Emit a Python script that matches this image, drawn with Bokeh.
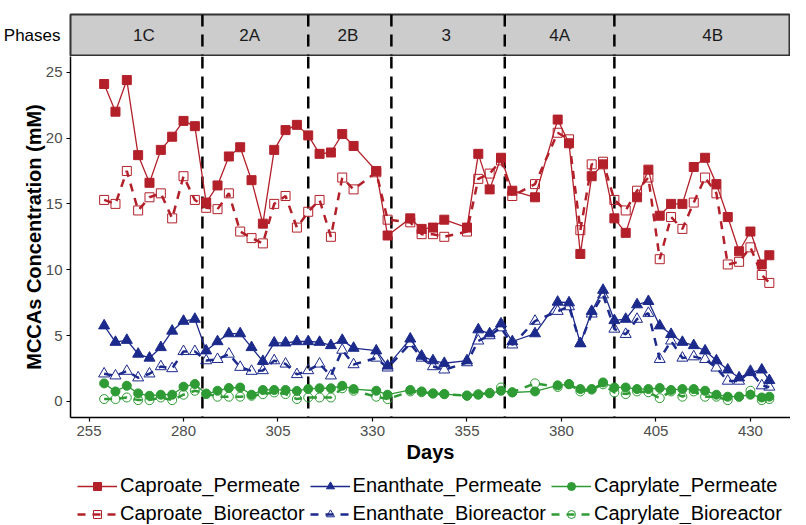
from bokeh.plotting import figure
from bokeh.models import Range1d, FixedTicker, Span, Legend, LegendItem, CustomJSTickFormatter
from bokeh.layouts import column
from bokeh.embed import file_html
from bokeh.resources import INLINE
from bokeh.core.properties import value

# ---------------- data ----------------
days = [259, 262, 265, 268, 271, 274, 277, 280, 283, 286, 289, 292, 295, 298, 301, 304, 307, 310,
        313, 316, 319, 322, 325, 331, 334, 340, 343, 346, 349, 355, 358, 361, 364, 367, 373, 379,
        382, 385, 388, 391, 394, 397, 400, 403, 406, 409, 412, 415, 418, 421, 424, 427, 430, 433, 435]

caproate_permeate = [24.1, 22.0, 24.4, 18.7, 16.6, 19.1, 20.1, 21.3, 20.9, 15.1, 16.4, 18.6, 19.3, 16.8,
                     13.5, 19.1, 20.6, 21.0, 20.2, 18.8, 18.9, 20.3, 19.4, 17.5, 12.6, 13.9, 13.1, 13.2,
                     13.8, 13.2, 18.8, 16.1, 18.5, 16.0, 15.5, 21.4, 19.6, 11.2, 17.1, 18.0, 13.9, 12.8,
                     15.5, 17.6, 14.1, 15.0, 15.0, 17.8, 18.5, 16.5, 14.0, 11.4, 12.9, 10.4, 11.1]
caproate_bioreactor = [15.3, 15.0, 17.5, 14.5, 15.5, 15.8, 13.9, 17.1, 15.3, 14.7, 14.6, 15.8, 12.9, 12.4,
                       12.0, 15.0, 15.6, 13.2, 14.4, 15.3, 12.5, 17.0, 16.1, 17.4, 13.8, 13.6, 12.7, 12.7,
                       12.5, 12.9, 16.9, 17.3, 18.3, 15.6, 16.5, 20.4, 19.9, 13.0, 18.0, 18.2, 15.3, 14.5,
                       16.0, 17.0, 10.8, 14.0, 13.1, 15.1, 17.0, 15.8, 10.4, 10.6, 11.7, 9.6, 9.0]
enanthate_permeate = [5.75, 4.5, 4.65, 3.6, 3.3, 4.1, 5.35, 6.1, 6.25, 3.85, 4.55, 5.15, 5.15, 4.1,
                      3.05, 4.45, 4.45, 4.55, 4.55, 4.5, 4.25, 4.65, 4.05, 3.85, 2.7, 4.75, 3.45, 3.1,
                      2.9, 3.1, 5.45, 5.15, 5.9, 4.55, 5.15, 7.55, 7.5, 4.4, 6.85, 8.45, 6.15, 6.25,
                      7.35, 7.6, 5.75, 5.1, 4.5, 4.25, 3.85, 3.1, 2.4, 1.8, 2.2, 2.4, 1.6]
enanthate_bioreactor = [2.1, 1.95, 2.3, 1.8, 2.1, 2.65, 2.5, 3.8, 3.8, 3.1, 3.2, 3.6, 2.6, 2.3,
                        2.35, 3.1, 2.85, 2.05, 2.35, 2.85, 1.95, 3.9, 2.8, 3.3, 2.55, 4.4, 3.3, 2.65,
                        2.4, 2.95, 4.6, 5.0, 5.6, 4.3, 6.1, 6.85, 7.2, 4.4, 6.65, 8.1, 5.5, 5.1,
                        6.25, 6.7, 3.2, 4.6, 3.3, 3.4, 3.2, 2.55, 1.55, 1.55, 2.3, 1.2, 1.1]
caprylate_permeate = [1.37, 0.76, 1.19, 0.61, 0.43, 0.51, 0.51, 1.12, 1.32, 0.56, 0.81, 1.02, 1.06, 0.51,
                      0.87, 0.87, 0.87, 0.8, 0.95, 1.0, 1.0, 1.19, 0.94, 0.81, 0.51, 0.87, 0.76, 0.61,
                      0.56, 0.43, 0.51, 0.61, 0.81, 0.68, 0.76, 1.22, 1.32, 0.94, 0.94, 1.44, 1.06, 1.06,
                      0.94, 0.94, 1.02, 0.87, 0.94, 0.94, 0.81, 0.51, 0.36, 0.36, 0.51, 0.3, 0.36]
caprylate_bioreactor = [0.18, 0.18, 0.3, 0.1, 0.1, 0.3, 0.1, 0.51, 0.81, 0.6, 0.36, 0.36, 0.36, 0.43,
                        0.55, 0.68, 0.56, 0.18, 0.3, 0.3, 0.3, 1.0, 0.81, 0.36, 0.18, 0.76, 0.7, 0.6,
                        0.55, 0.45, 0.55, 0.65, 1.06, 0.7, 1.37, 1.1, 1.3, 0.76, 0.9, 1.3, 0.68, 0.56,
                        0.76, 0.7, 0.25, 0.76, 0.36, 0.76, 0.36, 0.36, 0.1, 0.36, 0.81, 0.1, 0.18]

phase_names = ["1C", "2A", "2B", "3", "4A", "4B"]
phase_centers = [269.5, 297.5, 323.5, 349.5, 379.5, 420.0]
phase_bounds = [285, 313, 335, 365, 394]
x_ticks = [255, 280, 305, 330, 355, 380, 405, 430]
y_ticks = [0, 5, 10, 15, 20, 25]

series = [
    # label, values, color, marker, filled
    ("Caproate_Permeate", caproate_permeate, "#B3202A", "square", True),
    ("Enanthate_Permeate", enanthate_permeate, "#1C2A8C", "triangle", True),
    ("Caprylate_Permeate", caprylate_permeate, "#2E9B34", "circle", True),
    ("Caproate_Bioreactor", caproate_bioreactor, "#B3202A", "square", False),
    ("Enanthate_Bioreactor", enanthate_bioreactor, "#1C2A8C", "triangle", False),
    ("Caprylate_Bioreactor", caprylate_bioreactor, "#2E9B34", "circle", False),
]

# ---------------- style ----------------
FONT = "Liberation Sans"
W = 790
DASH = "8 7"
x_range = Range1d(250.1, 440.6)


def draw_series(fig, label, vals, color, marker, filled):
    size = 11 if marker == "triangle" else 9
    if filled:
        ln = fig.line(days, vals, line_color=color, line_width=1.3)
        pt = fig.scatter(days, vals, marker=marker, size=size, fill_color=color, line_color=color)
    else:
        ln = fig.line(days, vals, line_color=color, line_width=2.5, line_dash=DASH)
        pt = fig.scatter(days, vals, marker=marker, size=size, fill_alpha=0,
                         line_color=color, line_width=1)
    return ln, pt


# ---------------- strip (phases) ----------------
strip = figure(width=W, height=56, x_range=x_range, y_range=Range1d(0, 1),
               output_backend="svg", toolbar_location=None,
               min_border_left=64, min_border_right=0, min_border_top=14, min_border_bottom=1,
               x_axis_location=None)
strip.grid.visible = False
strip.background_fill_color = "#CCCCCC"
strip.outline_line_color = "#333333"
strip.outline_line_width = 2
strip.yaxis.ticker = FixedTicker(ticks=[0.5])
strip.yaxis.formatter = CustomJSTickFormatter(code="return 'Phases'")
strip.yaxis.axis_line_color = None
strip.yaxis.major_tick_line_color = None
strip.yaxis.minor_tick_line_color = None
strip.yaxis.major_label_text_font = FONT
strip.yaxis.major_label_text_font_size = "17px"
strip.yaxis.major_label_text_color = "black"
strip.yaxis.major_label_standoff = 4
for b in phase_bounds:
    strip.add_layout(Span(location=b, dimension="height", line_color="black",
                          line_width=2.5, line_dash="12 8"))
strip.text(x=phase_centers, y=[0.5] * len(phase_centers), text=phase_names,
           text_align="center", text_baseline="middle", text_font=value(FONT),
           text_font_size="17px", text_color="#1A1A1A")

# ---------------- main plot ----------------
p = figure(width=W, height=411, x_range=x_range, y_range=Range1d(-1.22, 26.19),
           output_backend="svg", toolbar_location=None,
           min_border_left=64, min_border_right=0, min_border_top=0, min_border_bottom=50)
p.grid.visible = False
p.outline_line_color = None

for b in phase_bounds:
    p.add_layout(Span(location=b, dimension="height", line_color="black",
                      line_width=2.5, line_dash="12 8", level="underlay"))

# bioreactor (dashed) first, then permeate on top
for s in series[3:] + series[:3]:
    draw_series(p, *s)

p.xaxis.ticker = FixedTicker(ticks=x_ticks)
p.yaxis.ticker = FixedTicker(ticks=y_ticks)
for ax in (p.xaxis[0], p.yaxis[0]):
    ax.axis_line_color = "black"
    ax.axis_line_width = 1.5
    ax.major_tick_line_color = "black"
    ax.major_tick_line_width = 1.2
    ax.major_tick_out = 4
    ax.major_tick_in = 0
    ax.minor_tick_line_color = None
    ax.major_label_text_font = FONT
    ax.major_label_text_font_size = "15px"
    ax.major_label_text_color = "#4D4D4D"
    ax.major_label_standoff = 4
    ax.axis_label_text_font = FONT
    ax.axis_label_text_font_size = "20px"
    ax.axis_label_text_font_style = "bold"
    ax.axis_label_text_color = "black"
    ax.axis_label_standoff = 2
p.xaxis.axis_label = "Days"
p.yaxis.axis_label = "MCCAs Concentration (mM)"
p.yaxis.axis_label_standoff = -2

# ---------------- legend strip ----------------
# same series drawn outside this small figure's ranges, so only the legend shows
lg = figure(width=W, height=57, x_range=Range1d(0, 1), y_range=Range1d(0, 1),
            output_backend="svg", toolbar_location=None,
            min_border=0, min_border_left=0, min_border_right=0,
            min_border_top=0, min_border_bottom=0,
            x_axis_location=None, y_axis_location=None)
lg.grid.visible = False
lg.outline_line_color = None
items = []
for s in series:
    ln, pt = draw_series(lg, *s)
    items.append(LegendItem(label=s[0], renderers=[ln, pt]))

legend = Legend(items=items, ncols=3, orientation="horizontal", location=(7, -1),
                label_text_font=FONT, label_text_font_size="20px", label_text_color="black",
                glyph_width=40, glyph_height=20, label_height=20, label_standoff=3,
                spacing=5, padding=0, margin=0, border_line_color=None, background_fill_alpha=0)
lg.add_layout(legend, "center")

layout = column(strip, p, lg, spacing=0)
open("out.html", "w").write(file_html(layout, INLINE))
